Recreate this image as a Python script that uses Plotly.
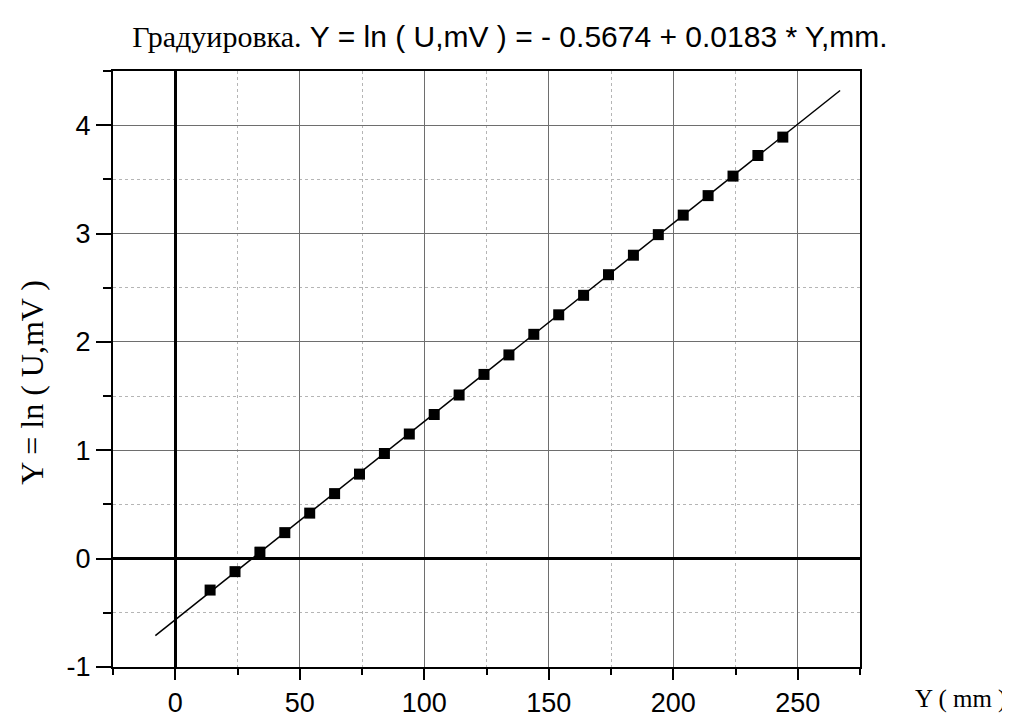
import plotly.graph_objects as go

# measured points
x_mm = [14, 24, 34, 44, 54, 64, 74, 84, 94, 104, 114, 124, 134, 144, 154, 164,
        174, 184, 194, 204, 214, 224, 234, 244]
y_ln = [-0.29, -0.12, 0.06, 0.24, 0.42, 0.60, 0.78, 0.97, 1.15, 1.33, 1.51, 1.70,
        1.88, 2.07, 2.25, 2.43, 2.62, 2.80, 2.99, 3.17, 3.35, 3.53, 3.72, 3.89]

# fit line endpoints
fit_x = [-8, 267]
fit_y = [-0.71, 4.32]

x_ticks = [0, 50, 100, 150, 200, 250]
x_ticktext = ["0", "50", "100", "150", "200", "250"]
y_ticks = [-1, 0, 1, 2, 3, 4]
y_ticktext = ["-1", "0", "1", "2", "3", "4"]

fig = go.Figure()
fig.add_trace(go.Scatter(x=fit_x, y=fit_y, mode="lines",
                         line=dict(color="black", width=1.5), showlegend=False))
fig.add_trace(go.Scatter(x=x_mm, y=y_ln, mode="markers",
                         marker=dict(symbol="square", size=11, color="black"),
                         showlegend=False))

tickfont = dict(family="Liberation Sans, Arial", size=27, color="black")
common = dict(
    showline=True, linecolor="black", linewidth=2, mirror=True,
    ticks="outside", tickwidth=2, tickcolor="black",
    showgrid=True, gridcolor="#6e6e6e", gridwidth=1.3,
    zeroline=True, zerolinecolor="black", zerolinewidth=2.5,
    tickfont=tickfont,
)

fig.update_xaxes(range=[-25, 275], tickvals=x_ticks, ticktext=x_ticktext, ticklen=11,
                 minor=dict(dtick=25, tick0=0, ticks="outside", ticklen=6, tickwidth=2,
                            tickcolor="black", showgrid=True, gridcolor="#b5b5b5",
                            griddash="dot", gridwidth=1),
                 **common)
fig.update_yaxes(range=[-1, 4.5], tickvals=y_ticks, ticktext=y_ticktext, ticklen=15,
                 minor=dict(dtick=0.5, tick0=0, ticks="outside", ticklen=8, tickwidth=2,
                            tickcolor="black", showgrid=True, gridcolor="#b5b5b5",
                            griddash="dot", gridwidth=1),
                 **common)

serif = "Liberation Serif, Times New Roman"
fig.add_annotation(x=24, y=382, xref="paper", yref="paper", text="Y = ln ( U,mV )",
                   textangle=-90, showarrow=False,
                   font=dict(family=serif, size=32, color="black"))
fig.add_annotation(x=953, y=706, xref="paper", yref="paper", text="Y ( mm )",
                   showarrow=False,
                   font=dict(family=serif, size=25, color="black"))

# convert pixel positions of annotations to paper coords
L, R, T, B, W, H = 105, 158, 63, 49, 1010, 722
pw, ph = W - L - R, H - T - B
for ann in fig.layout.annotations:
    px, py = ann.x, ann.y
    ann.x = (px - L) / pw
    ann.y = (H - B - py) / ph
    ann.xanchor = "center"
    ann.yanchor = "middle"

fig.update_layout(
    width=W, height=H,
    margin=dict(l=L, r=R, t=T, b=B),
    paper_bgcolor="white", plot_bgcolor="white",
    title=dict(
        text="<span style='font-family:Liberation Serif'>Градуировка.</span> Y = ln ( U,mV ) = - 0.5674 + 0.0183 * Y,mm.",
        x=502 / W, xanchor="center", y=1 - 28 / H, yanchor="middle",
        font=dict(family="Liberation Sans, Arial", size=30, color="black"),
    ),
)

fig.write_html("out.html")
